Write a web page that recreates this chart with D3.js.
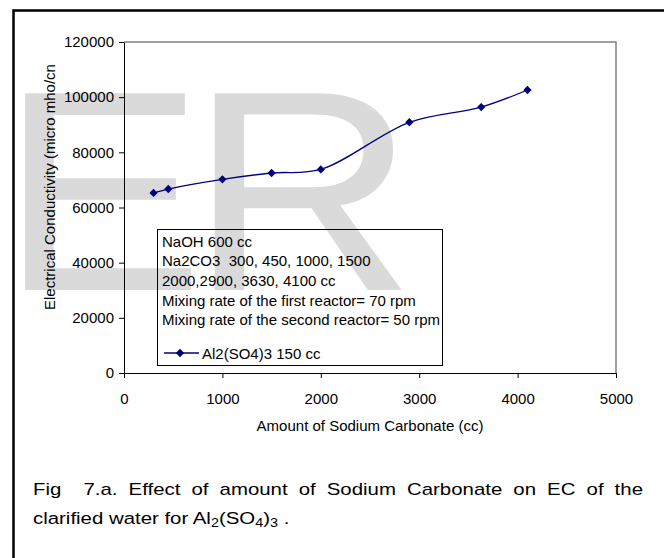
<!DOCTYPE html>
<html>
<head>
<meta charset="utf-8">
<script src="https://cdn.jsdelivr.net/npm/d3@7"></script>
<style>
  html, body { margin: 0; padding: 0; background: #fff; }
  svg { display: block; }
  text { font-family: "Liberation Sans", Arial, sans-serif; }
</style>
</head>
<body>
<svg id="chart" width="664" height="558"></svg>
<script>
// ---- data ----
const sodiumCarbonate = [300, 450, 1000, 1500, 2000, 2900, 3630, 4100];
const conductivity = [65300, 66700, 70200, 72500, 73800, 90900, 96400, 102600];
const xTicks = [0, 1000, 2000, 3000, 4000, 5000];
const yTicks = [0, 20000, 40000, 60000, 80000, 100000, 120000];
const seriesName = "Al2(SO4)3 150 cc";
const legendNotes = [
  "NaOH 600 cc",
  "Na2CO3  300, 450, 1000, 1500",
  "2000,2900, 3630, 4100 cc",
  "Mixing rate of the first reactor= 70 rpm",
  "Mixing rate of the second reactor= 50 rpm"
];
const xTitle = "Amount of Sodium Carbonate (cc)";
const yTitle = "Electrical Conductivity (micro mho/cn";
const captionLine1 = ["Fig", "7.a.", "Effect", "of", "amount", "of", "Sodium", "Carbonate", "on", "EC", "of", "the"];

const svg = d3.select("#chart");
const navy = "#000080";

// watermark
const wm = svg.append("g").attr("fill", "#dadada")
  .attr("font-family", "Liberation Sans, Arial, sans-serif");
wm.append("text").attr("transform", "translate(0,290) scale(1.07,1)").attr("font-size", 286).text("E");
wm.append("text").attr("transform", "translate(189,290) scale(1.1,1)").attr("font-size", 286).text("R");

// frame
svg.append("rect").attr("x", 13.5).attr("y", 10.5).attr("width", 700).attr("height", 600)
  .attr("fill", "none").attr("stroke", "#000").attr("stroke-width", 2.5);

const x = d3.scaleLinear().domain([0, 5000]).range([124, 616]);
const y = d3.scaleLinear().domain([0, 120000]).range([373, 42]);

// plot border (top/right)
svg.append("path")
  .attr("d", `M${x(0)},${y(120000)}H${x(5000)}V${y(0)}`)
  .attr("fill", "none").attr("stroke", "#808080").attr("stroke-width", 1.5);

// axes
const yAxis = svg.append("g").attr("transform", `translate(${x(0)},0)`)
  .call(d3.axisLeft(y).tickValues(yTicks).tickFormat(d3.format("d")).tickSize(5).tickPadding(5).tickSizeOuter(0));
const xAxis = svg.append("g").attr("transform", `translate(0,${y(0)})`)
  .call(d3.axisBottom(x).tickValues(xTicks).tickFormat(d3.format("d")).tickSize(5).tickPadding(15).tickSizeOuter(0));
[yAxis, xAxis].forEach(a => {
  a.selectAll("text").attr("font-size", 15).attr("font-family", "Liberation Sans, Arial, sans-serif").attr("fill", "#000");
  a.selectAll("line, path").attr("stroke", "#000");
});

// axis titles
svg.append("text").attr("x", (x(0) + x(5000)) / 2).attr("y", 431)
  .attr("text-anchor", "middle").attr("font-size", 15).text(xTitle);
svg.append("text").attr("transform", `translate(55,310) rotate(-90)`)
  .attr("text-anchor", "start").attr("font-size", 15).text(yTitle);

// line
const pts = sodiumCarbonate.map((d, i) => [d, conductivity[i]]);
svg.append("path").datum(pts)
  .attr("d", d3.line().x(d => x(d[0])).y(d => y(d[1])).curve(d3.curveCatmullRom.alpha(0.5)))
  .attr("fill", "none").attr("stroke", navy).attr("stroke-width", 1.3);
const diamond = d3.symbol().type(d3.symbolDiamond2).size(44);
svg.selectAll("path.mk").data(pts).join("path").attr("class", "mk")
  .attr("transform", d => `translate(${x(d[0])},${y(d[1])})`)
  .attr("d", diamond).attr("fill", navy);

// legend
const lg = svg.append("g");
lg.append("rect").attr("x", 157.5).attr("y", 229.5).attr("width", 285).attr("height", 136)
  .attr("fill", "none").attr("stroke", "#000").attr("stroke-width", 1);
legendNotes.forEach((t, i) => {
  lg.append("text").attr("x", 162).attr("y", 246.5 + i * 19.7).attr("font-size", 15)
    .style("white-space", "pre").text(t);
});
lg.append("line").attr("x1", 164).attr("x2", 199).attr("y1", 353).attr("y2", 353)
  .attr("stroke", navy).attr("stroke-width", 1.3);
lg.append("path").attr("transform", "translate(180,353)").attr("d", diamond).attr("fill", navy);
lg.append("text").attr("x", 202).attr("y", 358.5).attr("font-size", 15).text(seriesName);

// caption (line 1 justified; double space after "Fig")
const stretch = 1.2;
const cap = svg.append("g").attr("font-size", 17).attr("fill", "#000");
const words = captionLine1.map(w => cap.append("text").attr("y", 495).text(w));
const widths = words.map(w => w.node().getComputedTextLength() * stretch);
words.forEach((w, i) => w.attr("textLength", widths[i]).attr("lengthAdjust", "spacingAndGlyphs"));
const gapWeights = captionLine1.slice(0, -1).map((w, i) => i === 0 ? 2 : 1);
const unit = (643 - 33 - d3.sum(widths)) / d3.sum(gapWeights);
let cx = 33;
words.forEach((w, i) => { w.attr("x", cx); cx += widths[i] + (gapWeights[i] || 0) * unit; });
const l2 = cap.append("text").attr("transform", `translate(33,524) scale(${stretch},1)`);
l2.append("tspan").text("clarified water for Al");
l2.append("tspan").attr("font-size", 12).attr("dy", 3).text("2");
l2.append("tspan").attr("dy", -3).text("(SO");
l2.append("tspan").attr("font-size", 12).attr("dy", 3).text("4");
l2.append("tspan").attr("dy", -3).text(")");
l2.append("tspan").attr("font-size", 12).attr("dy", 3).text("3");
l2.append("tspan").attr("dy", -3).text(" .");
</script>
</body>
</html>
